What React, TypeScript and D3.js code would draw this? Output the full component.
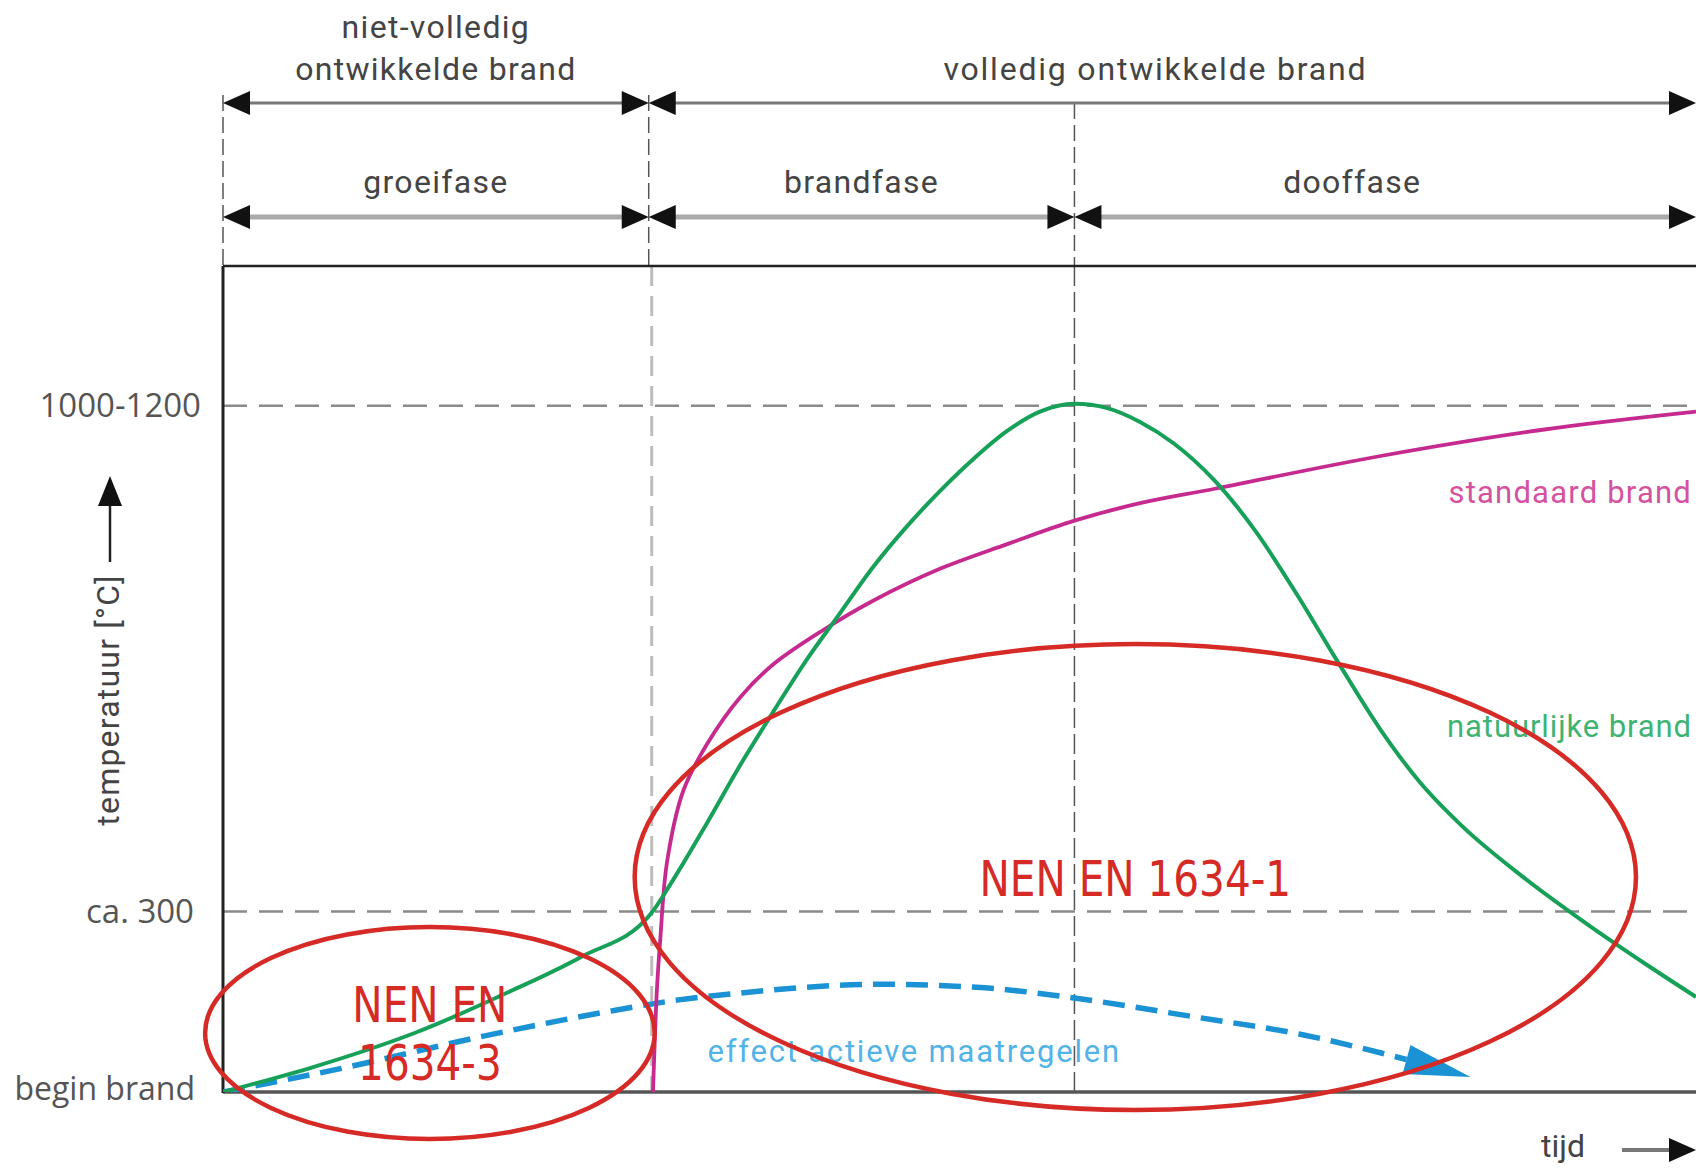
import { useEffect, useRef } from 'react'
import * as d3 from 'd3'

const W = 1696
const H = 1168

// time axis in phase units: 0 = begin brand, 1 = flashover, 2 = peak
const timeMax = 3.46
const phaseNames = ['groeifase', 'brandfase', 'dooffase']
const phaseEdges = [0, 1, 2, timeMax]
const stageNames = [['niet-volledig', 'ontwikkelde brand'], ['volledig ontwikkelde brand']]
const stageEdges = [0, 1, timeMax]

const tempMax = 1372
const tempTicks = [0, 300, 1140]
const tempTickLabels = ['begin brand', 'ca. 300', '1000-1200']

// natuurlijke brand (green)
const naturalTime = [0, 0.21, 0.45, 0.68, 0.84, 1.005, 1.057, 1.137, 1.214, 1.292, 1.372, 1.449, 1.527, 1.607, 1.684, 1.762, 1.842, 1.919, 2.0, 2.077, 2.154, 2.232, 2.33, 2.427, 2.523, 2.619, 2.716, 2.812, 2.91, 3.054, 3.2, 3.345, 3.46]
const naturalTemp = [0, 41, 98, 169, 224, 296, 352, 447, 542, 631, 719, 795, 872, 940, 998, 1051, 1098, 1130, 1143, 1136, 1113, 1078, 1015, 930, 826, 714, 605, 514, 442, 357, 281, 211, 158]

// standaard brand (magenta)
const standardTime = [1.01, 1.015, 1.02, 1.027, 1.043, 1.081, 1.137, 1.214, 1.292, 1.409, 1.527, 1.684, 1.842, 2.0, 2.154, 2.33, 2.716, 3.1, 3.46]
const standardTemp = [0, 100, 180, 252, 382, 500, 578, 655, 710, 767, 816, 869, 910, 949, 978, 1002, 1056, 1100, 1130]

// effect actieve maatregelen (blue, dashed with arrow)
const activeTime = [0, 0.29, 0.6, 0.9, 1.07, 1.21, 1.54, 1.79, 2.0, 2.28, 2.53, 2.78]
const activeTemp = [0, 41, 91, 133, 153, 164, 179, 173, 156, 125, 96, 54]
const activeTip = [2.93, 25]

// red annotation ellipses (centre t, centre temp, radius t, radius temp)
const noteLines = [['NEN EN', '1634-3'], ['NEN EN 1634-1']]
const noteCenterTime = [0.486, 2.143]
const noteCenterTemp = [98, 357]
const noteRadiusTime = [0.528, 1.176]
const noteRadiusTemp = [176, 387]

const colors = {
  natural: '#16a058',
  naturalText: '#3fb373',
  standard: '#c72a8f',
  standardText: '#d4529f',
  active: '#1a92d4',
  activeText: '#52b3e8',
  note: '#d62a26',
  text: '#444',
  grid: '#8a8a8a',
}

export default function App() {
  const ref = useRef<SVGSVGElement>(null)

  useEffect(() => {
    if (!ref.current) return
    const margin = { top: 266, left: 223, bottom: 1092 }

    d3.select(ref.current).selectAll('*').remove()
    const svg = d3.select(ref.current).attr('width', W).attr('height', H)

    const x = d3.scaleLinear().domain([0, timeMax]).range([margin.left, W])
    const y = d3.scaleLinear().domain([0, tempMax]).range([margin.bottom, margin.top])

    const defs = svg.append('defs')
    defs.append('clipPath').attr('id', 'plot')
      .append('rect').attr('x', margin.left).attr('y', margin.top)
      .attr('width', W - margin.left).attr('height', margin.bottom - margin.top)

    const uiFont = 'Roboto, sans-serif'

    // header: dashed verticals
    const headerRows = [103, 217]
    ;[0, 1, 2].forEach((t) => {
      svg.append('line')
        .attr('x1', x(t)).attr('x2', x(t))
        .attr('y1', t === 2 ? headerRows[0] : headerRows[0] - 8).attr('y2', margin.top)
        .attr('stroke', '#555').attr('stroke-width', 1.5)
        .attr('stroke-dasharray', '16 6')
    })

    const arrowHead = (tipX: number, tipY: number, dir: number) => {
      const len = 27
      const half = 12
      return `M${tipX},${tipY}L${tipX - dir * len},${tipY - half}L${tipX - dir * len},${tipY + half}Z`
    }

    const drawSpan = (x0: number, x1: number, yy: number, stroke: string, sw: number) => {
      svg.append('line')
        .attr('x1', x0 + 10).attr('x2', x1 - 10)
        .attr('y1', yy).attr('y2', yy)
        .attr('stroke', stroke).attr('stroke-width', sw)
      svg.append('path').attr('d', arrowHead(x0, yy, -1)).attr('fill', '#111')
      svg.append('path').attr('d', arrowHead(x1, yy, 1)).attr('fill', '#111')
    }

    const headerText = (txt: string, cx: number, yy: number, ls = 1.3) =>
      svg.append('text')
        .attr('x', cx)
        .attr('y', yy)
        .attr('text-anchor', 'middle')
        .attr('font-family', uiFont)
        .attr('font-size', 32)
        .attr('letter-spacing', ls)
        .attr('fill', colors.text)
        .text(txt)

    stageNames.forEach((lines, i) => {
      const x0 = x(stageEdges[i])
      const x1 = x(stageEdges[i + 1])
      drawSpan(x0, x1, headerRows[0], '#777', 3)
      const cx = i === 1 ? (x0 + x1) / 2 - 17 : (x0 + x1) / 2
      lines.forEach((line, j) => {
        headerText(line, cx, 80 - (lines.length - 1 - j) * 42, i === 1 ? 1.8 : 1.3)
      })
    })

    phaseNames.forEach((name, i) => {
      const x0 = x(phaseEdges[i])
      const x1 = x(phaseEdges[i + 1])
      drawSpan(x0, x1, headerRows[1], '#aaa', 5)
      const cx = i === 2 ? (x0 + x1) / 2 - 33 : (x0 + x1) / 2
      headerText(name, cx, 193)
    })

    // plot: horizontal dashed grid
    tempTicks.slice(1).forEach((v) => {
      svg.append('line')
        .attr('x1', margin.left).attr('x2', W)
        .attr('y1', y(v)).attr('y2', y(v))
        .attr('stroke', colors.grid).attr('stroke-width', 2.5)
        .attr('stroke-dasharray', '24 12')
    })

    // plot: phase dividers
    svg.append('line')
      .attr('x1', x(1) + 3).attr('x2', x(1) + 3)
      .attr('y1', margin.top).attr('y2', margin.bottom)
      .attr('stroke', '#bdbdbd').attr('stroke-width', 3)
      .attr('stroke-dasharray', '20 10')
    svg.append('line')
      .attr('x1', x(2)).attr('x2', x(2))
      .attr('y1', margin.top).attr('y2', margin.bottom)
      .attr('stroke', '#555').attr('stroke-width', 1.5)
      .attr('stroke-dasharray', '20 6')

    // frame
    svg.append('line')
      .attr('x1', margin.left).attr('x2', W)
      .attr('y1', margin.top).attr('y2', margin.top)
      .attr('stroke', '#222').attr('stroke-width', 2.5)
    svg.append('line')
      .attr('x1', margin.left).attr('x2', W)
      .attr('y1', margin.bottom).attr('y2', margin.bottom)
      .attr('stroke', '#555').attr('stroke-width', 3.5)
    svg.append('line')
      .attr('x1', margin.left).attr('x2', margin.left)
      .attr('y1', margin.top).attr('y2', margin.bottom + 1)
      .attr('stroke', '#222').attr('stroke-width', 3)

    // tick labels
    const tickDx = [-28, -29, -22]
    const tickDy = [8, 12, 11]
    const tickSize = [32, 33, 33]
    tempTicks.forEach((v, i) => {
      svg.append('text')
        .attr('x', margin.left + tickDx[i])
        .attr('y', y(v) + tickDy[i])
        .attr('text-anchor', 'end')
        .attr('font-family', '"Open Sans", sans-serif')
        .attr('font-size', tickSize[i])
        .attr('fill', '#555')
        .text(tempTickLabels[i])
    })

    // y-axis title with arrow
    svg.append('text')
      .attr('transform', `translate(119,700) rotate(-90)`)
      .attr('text-anchor', 'middle')
      .attr('font-family', uiFont)
      .attr('font-size', 32)
      .attr('letter-spacing', 1.2)
      .attr('fill', colors.text)
      .text('temperatuur [°C]')
    svg.append('line')
      .attr('x1', 110).attr('x2', 110).attr('y1', 562).attr('y2', 500)
      .attr('stroke', '#222').attr('stroke-width', 2.5)
    svg.append('path').attr('d', 'M110,476L98,506L122,506Z').attr('fill', '#111')

    // x-axis title
    svg.append('text')
      .attr('x', 1541).attr('y', 1157)
      .attr('font-family', uiFont)
      .attr('font-size', 32)
      .attr('fill', colors.text)
      .text('tijd')
    svg.append('line')
      .attr('x1', 1622).attr('x2', 1675).attr('y1', 1150).attr('y2', 1150)
      .attr('stroke', '#777').attr('stroke-width', 4)
    svg.append('path').attr('d', arrowHead(1696, 1150, 1)).attr('fill', '#111')

    // curves
    const plot = svg.append('g').attr('clip-path', 'url(#plot)')
    const line = d3.line<[number, number]>()
      .x((d) => x(d[0]))
      .y((d) => y(d[1]))
      .curve(d3.curveMonotoneX)
    const smoothLine = d3.line<[number, number]>()
      .x((d) => x(d[0]))
      .y((d) => y(d[1]))
      .curve(d3.curveCatmullRom.alpha(0.5))

    const activePts = activeTime.map((t, i) => [t, activeTemp[i]] as [number, number])
    plot.append('path')
      .attr('d', line(activePts))
      .attr('fill', 'none')
      .attr('stroke', colors.active)
      .attr('stroke-width', 5.5)
      .attr('stroke-dasharray', '22 11')

    // arrow head for active measures
    const last = activePts[activePts.length - 1]
    const bx = x(last[0]), by = y(last[1])
    const tx = x(activeTip[0]), ty = y(activeTip[1])
    const dx = tx - bx, dy = ty - by
    const len = Math.hypot(dx, dy)
    const nx = -dy / len, ny = dx / len
    const hw = 15
    plot.append('path')
      .attr('d', `M${tx},${ty}L${bx + nx * hw},${by + ny * hw}L${bx - nx * hw},${by - ny * hw}Z`)
      .attr('fill', colors.active)

    plot.append('path')
      .attr('d', smoothLine(standardTime.map((t, i) => [t, standardTemp[i]] as [number, number])))
      .attr('fill', 'none')
      .attr('stroke', colors.standard)
      .attr('stroke-width', 3.8)

    plot.append('path')
      .attr('d', line(naturalTime.map((t, i) => [t, naturalTemp[i]] as [number, number])))
      .attr('fill', 'none')
      .attr('stroke', colors.natural)
      .attr('stroke-width', 4)

    // series labels
    const seriesLabels = [
      { text: 'standaard brand', t: timeMax, temp: 978, anchor: 'end', fill: colors.standardText, ls: 1.2 },
      { text: 'natuurlijke brand', t: timeMax, temp: 590, anchor: 'end', fill: colors.naturalText, ls: 0.9 },
      { text: 'effect actieve maatregelen', t: 1.138, temp: 50, anchor: 'start', fill: colors.activeText, ls: 1.8 },
    ]
    seriesLabels.forEach((l) => {
      svg.append('text')
        .attr('x', x(l.t) - (l.anchor === 'end' ? 4 : 0))
        .attr('y', y(l.temp))
        .attr('text-anchor', l.anchor)
        .attr('font-family', uiFont)
        .attr('font-size', 31)
        .attr('letter-spacing', l.ls)
        .attr('fill', l.fill)
        .text(l.text)
    })

    // red annotations
    noteLines.forEach((lines, i) => {
      const cx = x(noteCenterTime[i])
      const cy = y(noteCenterTemp[i])
      svg.append('ellipse')
        .attr('cx', cx).attr('cy', cy)
        .attr('rx', x(noteRadiusTime[i]) - x(0))
        .attr('ry', y(0) - y(noteRadiusTemp[i]))
        .attr('fill', 'none')
        .attr('stroke', colors.note)
        .attr('stroke-width', 4.5)
      lines.forEach((txt, j) => {
        const ty = lines.length === 2 ? 1022 + j * 58 : cy + 19
        svg.append('text')
          .attr('transform', `translate(${cx},${ty}) scale(0.92,1)`)
          .attr('text-anchor', 'middle')
          .attr('font-family', '"DejaVu Sans Condensed", "DejaVu Sans", sans-serif')
          .attr('font-size', 49)
          .attr('fill', colors.note)
          .text(txt)
      })
    })
  }, [])

  return (
    <svg
      ref={ref}
      style={{ position: 'absolute', left: 0, top: 0, display: 'block', background: '#fff' }}
    />
  )
}
